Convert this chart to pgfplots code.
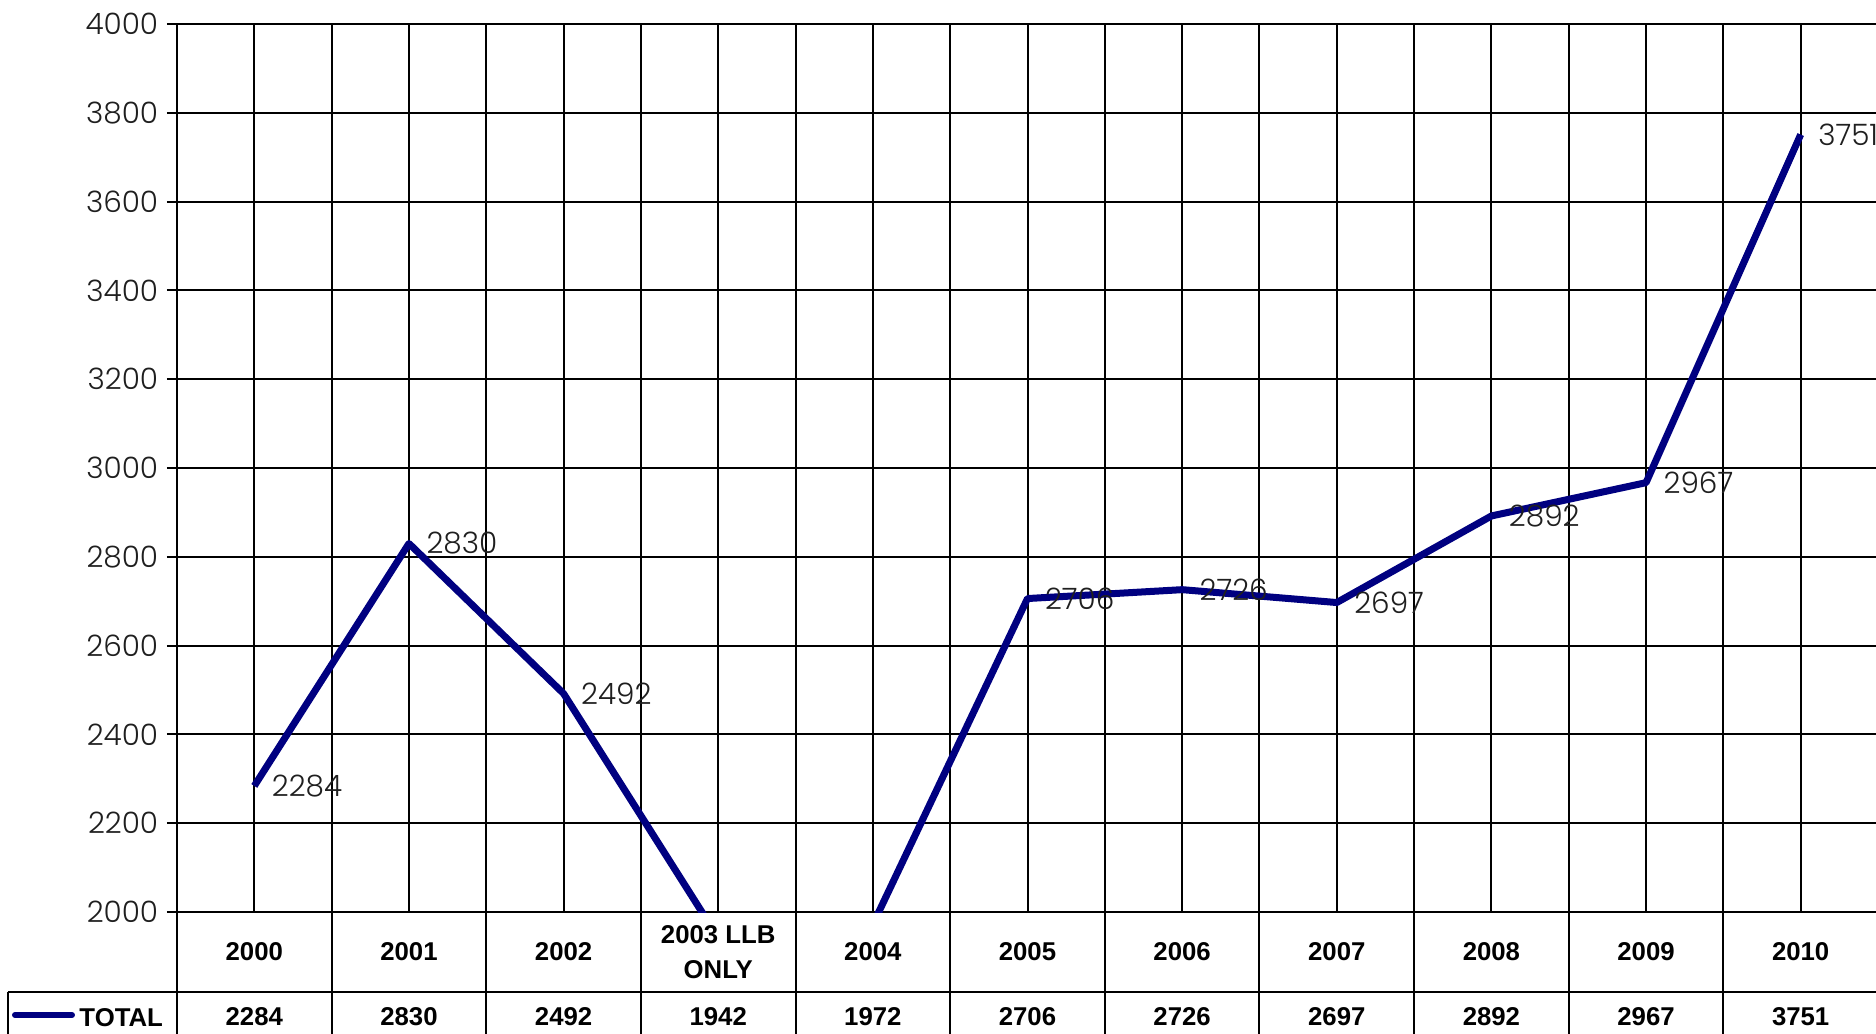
\documentclass[border=0pt]{standalone}
\usepackage{pgfplots}
\pgfplotsset{compat=1.18}
\usepackage{fontspec}
\usetikzlibrary{calc}
\setmainfont{Liberation Sans}
\IfFontExistsTF{Poppins Light}{\newfontfamily\gothic{Poppins Light}}{\newfontfamily\gothic{Poppins}}
\newfontfamily\tablefont{Liberation Sans}
\definecolor{navyline}{RGB}{0,0,128}
\newlength{\px}\setlength{\px}{0.4pt}
\begin{document}
\begin{tikzpicture}
\begin{axis}[
  name=ax,
  at={(0,0)}, anchor=south west,
  scale only axis,
  width=680.4pt,
  height=355.2pt,
  xmin=0, xmax=11,
  ymin=2000, ymax=4000,
  ytick={2000,2200,...,4000},
  xtick={0,0.5,...,11},
  xticklabels={},
  xtick style={draw=none},
  ytick style={black, line width=0.8pt},
  tick align=outside,
  major tick length=4pt,
  grid=major,
  major grid style={black, line width=0.8pt},
  axis line style={black, line width=1pt},
  yticklabel style={font=\gothic\fontsize{11.8}{13}\selectfont, text=black!88},
  /pgf/number format/assume math mode=true,
  /pgf/number format/1000 sep={},
]
\addplot[navyline, line width=2.8pt, line join=round, mark=none]
  coordinates {(0.5,2284)(1.5,2830)(2.5,2492)(3.5,1942)(4.5,1972)(5.5,2706)(6.5,2726)(7.5,2697)(8.5,2892)(9.5,2967)(10.5,3751)};
\addplot[draw=none, mark=none, nodes near coords,
  point meta=explicit symbolic,
  every node near coord/.append style={anchor=west, xshift=3.5pt, yshift=0pt, font=\gothic\fontsize{11.8}{13}\selectfont, text=black!88}]
  table[meta=lab] {
x y lab
0.5 2284 2284
1.5 2830 2830
2.5 2492 2492
5.5 2706 2706
6.5 2726 2726
7.5 2697 2697
8.5 2892 2892
9.5 2967 2967
10.5 3751 3751
};
\end{axis}
\begin{scope}[x=\px, y=\px, shift={(ax.south west)}]
  \foreach \k in {0,...,11} {
    \draw[black, line width=0.8pt] ({\k*154.636},0) -- ({\k*154.636},-140);
  }
  \draw[black, line width=0.8pt] (-169,-80) -- (1701,-80);
  \draw[black, line width=0.8pt] (-169,-80) -- (-169,-140);
  \draw[navyline, line width=2.4pt, line cap=round] (-162,-103) -- (-105,-103);
  \node[anchor=west, font=\tablefont\bfseries\fontsize{10.3}{12}\selectfont, inner sep=0pt] at (-98,-106) {TOTAL};
  \foreach \lab [count=\i from 0] in {2000,2001,2002,{2003 LLB\\ONLY},2004,2005,2006,2007,2008,2009,2010} {
    \node[align=center, font=\tablefont\bfseries\fontsize{10.3}{14}\selectfont, inner sep=0pt] at ({(\i+0.5)*154.636},-40) {\lab};
  }
  \foreach \v [count=\i from 0] in {2284,2830,2492,1942,1972,2706,2726,2697,2892,2967,3751} {
    \node[font=\tablefont\bfseries\fontsize{10.3}{12}\selectfont, inner sep=0pt] at ({(\i+0.5)*154.636},-105) {\v};
  }
\end{scope}
\pgfresetboundingbox
\useasboundingbox ($(ax.south west)+(-70.8pt,-48.4pt)$) rectangle ($(ax.south west)+(679.6pt,364.8pt)$);
\end{tikzpicture}
\end{document}
